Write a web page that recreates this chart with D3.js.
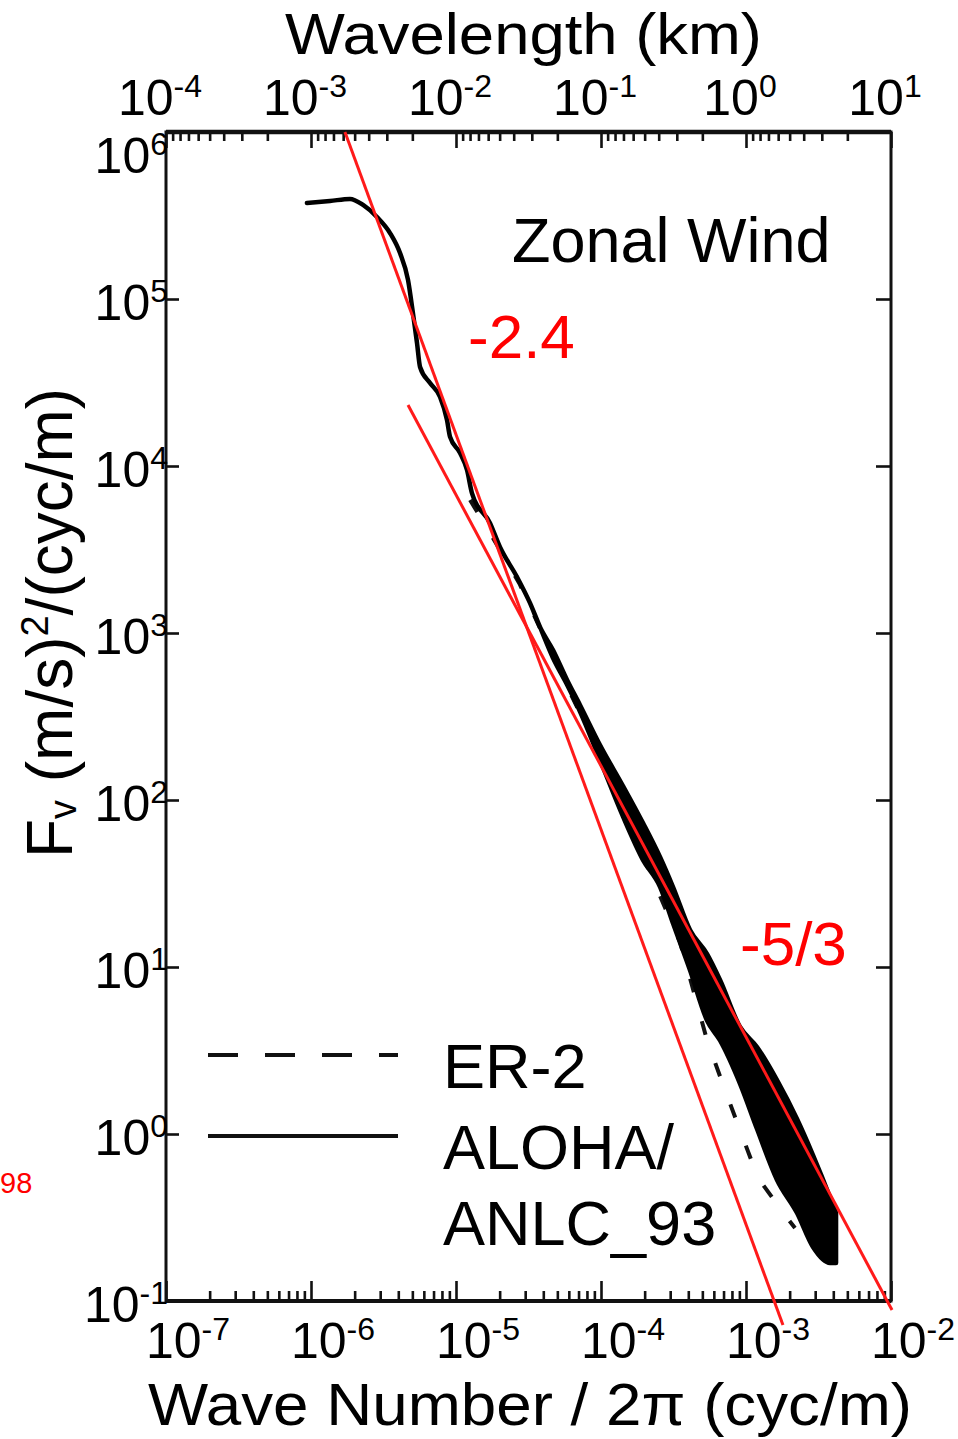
<!doctype html>
<html>
<head>
<meta charset="utf-8"/>
<title>Zonal Wind spectrum</title>
<script src="https://d3js.org/d3.v7.min.js"></script>
<style>
  body { margin: 0; background: #fff; }
  text { font-family: "Liberation Sans", Arial, sans-serif; }
</style>
</head>
<body>
<div id="chart"></div>
<script>
// ALOHA/ANLC_93 spectrum, log10 of wave number/2pi (cyc/m) and log10 of F (upper / lower edge of the noisy band)
var alohaLogK  = [-6.028, -5.869, -5.731, -5.641, -5.545, -5.455, -5.386, -5.331, -5.297, -5.269, -5.248, -5.179, -5.110, -5.062, -5.041, -4.972, -4.924, -4.890, -4.766, -4.697, -4.579, -4.490, -4.421,
                  -4.331, -4.234, -4.145, -4.007, -3.848, -3.710, -3.593, -3.503, -3.386, -3.269, -3.179, -3.041, -2.924, -2.786, -2.648, -2.538, -2.421, -2.379];
var alohaLogHi = [5.575, 5.587, 5.599, 5.563, 5.491, 5.395, 5.275, 5.114, 4.916, 4.737, 4.593, 4.497, 4.413, 4.275, 4.174, 4.078, 3.976, 3.838, 3.659, 3.515, 3.335, 3.180, 3.036,
                  2.898, 2.719, 2.569, 2.329, 2.084, 1.862, 1.659, 1.479, 1.222, 1.078, 0.922, 0.641, 0.521, 0.323, 0.090, -0.126, -0.377, -0.473];
var alohaLogLo = [5.575, 5.587, 5.599, 5.563, 5.491, 5.395, 5.275, 5.114, 4.916, 4.737, 4.593, 4.497, 4.413, 4.275, 4.174, 4.078, 3.976, 3.838, 3.659, 3.515, 3.335, 3.180, 3.036,
                  2.850, 2.690, 2.530, 2.240, 1.900, 1.640, 1.480, 1.260, 0.980, 0.680, 0.560, 0.300, 0.030, -0.275, -0.473, -0.677, -0.772, -0.772];

// ER-2 spectrum (mostly hidden under the ALOHA band)
var er2LogK = [-4.903, -4.766, -4.559, -4.283, -4.007, -3.731, -3.455, -3.269, -3.145, -3.034, -2.917, -2.717, -2.662];
var er2LogF = [3.796, 3.600, 3.290, 2.770, 2.270, 1.700, 1.150, 0.563, 0.263, 0.006, -0.263, -0.503, -0.563];

// red reference slopes (end points)
var fitLabels = ["-2.4", "-5/3"];
var fitLogK = [[-5.766, -2.745], [-5.331, -1.993]];
var fitLogF = [[6.0, -1.144], [4.365, -1.054]];

// tick labels (exponents)
var bottomExp = ["-7", "-6", "-5", "-4", "-3", "-2"];
var topExp    = ["-4", "-3", "-2", "-1", "0", "1"];
var leftExp   = ["6", "5", "4", "3", "2", "1", "0", "-1"];

var legendLabels = [["ER-2"], ["ALOHA/", "ANLC_93"]];

var W = 958, H = 1439;
var L = 166, R = 891, T = 132, B = 1301;

var svg = d3.select("#chart").append("svg")
    .attr("width", W).attr("height", H);

var x = d3.scaleLog().domain([1e-7, 1e-2]).range([L, R]);
var y = d3.scaleLog().domain([1e-1, 1e6]).range([B, T]);
// wavelength axis on top: ticks of a decreasing log scale, labelled as printed in the figure
var xTopTicks = d3.scaleLog().domain([1e4, 1e-1]).range([L, R]);
var xTop = d3.scaleLog().domain([1e-4, 1e1]).range([L, R]);

function p10(v) { return Math.pow(10, v); }
function isDecade(v) { return Math.abs(Math.log10(v) - Math.round(Math.log10(v))) < 1e-6; }

// ---- axes ticks
var gb = svg.append("g").attr("transform", "translate(0," + B + ")")
    .call(d3.axisBottom(x).tickSize(-10).tickFormat(""));
gb.selectAll(".tick line").attr("y2", function(d) { return isDecade(d) ? -20 : -10; });

var gt = svg.append("g").attr("transform", "translate(0," + T + ")")
    .call(d3.axisTop(xTopTicks).tickSize(-9).tickFormat(""));
gt.selectAll(".tick line").attr("y2", function(d) { return isDecade(d) ? 16 : 9; });

var yDec = leftExp.map(function(e) { return p10(+e); });
svg.append("g").attr("transform", "translate(" + L + ",0)")
    .call(d3.axisLeft(y).tickValues(yDec).tickSize(-13).tickFormat(""));
svg.append("g").attr("transform", "translate(" + R + ",0)")
    .call(d3.axisRight(y).tickValues(yDec).tickSize(-15).tickFormat(""));

svg.selectAll(".domain").remove();
svg.selectAll(".tick line").attr("stroke", "#111").attr("stroke-width", 2.6);

// frame
svg.append("rect")
    .attr("x", L).attr("y", T).attr("width", R - L).attr("height", B - T)
    .attr("fill", "none").attr("stroke", "#111").attr("stroke-width", 3);
svg.append("line").attr("x1", L).attr("x2", R).attr("y1", T).attr("y2", T)
    .attr("stroke", "#111").attr("stroke-width", 4.5);
svg.append("line").attr("x1", L).attr("x2", R).attr("y1", B).attr("y2", B)
    .attr("stroke", "#111").attr("stroke-width", 4);

// ---- tick labels
function powText(g, base, exp, size) {
  g.append("tspan").text(base);
  g.append("tspan").attr("font-size", size * 0.64).attr("dy", -size * 0.37).text(exp);
}
var fs = 50;
bottomExp.forEach(function(e) {
  var t = svg.append("text").attr("x", x(p10(+e)) + 22).attr("y", 1358)
      .attr("text-anchor", "middle").attr("font-size", fs);
  powText(t, "10", e, fs);
});
topExp.forEach(function(e) {
  var t = svg.append("text").attr("x", xTop(p10(+e)) - 6).attr("y", 115)
      .attr("text-anchor", "middle").attr("font-size", fs);
  powText(t, "10", e, fs);
});
leftExp.forEach(function(e) {
  var t = svg.append("text").attr("x", 168).attr("y", Math.max(y(p10(+e)) + 21, 173))
      .attr("text-anchor", "end").attr("font-size", fs);
  powText(t, "10", e, fs);
});

// ---- axis titles
svg.append("text").attr("x", 285).attr("y", 54)
    .attr("font-size", 58).attr("textLength", 477).attr("lengthAdjust", "spacingAndGlyphs")
    .text("Wavelength (km)");
svg.append("text").attr("x", 148).attr("y", 1425)
    .attr("font-size", 60).attr("textLength", 764).attr("lengthAdjust", "spacingAndGlyphs")
    .text("Wave Number / 2\u03c0 (cyc/m)");

var yt = svg.append("text").attr("transform", "translate(72,623) rotate(-90)")
    .attr("text-anchor", "middle").attr("font-size", 64);
yt.append("tspan").text("F");
yt.append("tspan").attr("font-size", 38).attr("dy", 4).text("v");
yt.append("tspan").attr("dy", -4).text(" (m/s)");
yt.append("tspan").attr("font-size", 38).attr("dy", -24).text("2");
yt.append("tspan").attr("dy", 24).text("/(cyc/m)");

// ---- data
var aloha = alohaLogK.map(function(k, i) { return { k: p10(k), hi: p10(alohaLogHi[i]), lo: p10(alohaLogLo[i]) }; });
var er2 = er2LogK.map(function(k, i) { return { k: p10(k), f: p10(er2LogF[i]) }; });

svg.append("path").datum(er2)
    .attr("fill", "none").attr("stroke", "#111").attr("stroke-width", 4)
    .attr("stroke-dasharray", "14,30")
    .attr("d", d3.line().x(function(d) { return x(d.k); }).y(function(d) { return y(d.f); }));

svg.append("path").datum(aloha)
    .attr("fill", "#000").attr("stroke", "#000").attr("stroke-width", 4.5)
    .attr("stroke-linejoin", "round")
    .attr("d", d3.area().curve(d3.curveMonotoneX)
        .x(function(d) { return x(d.k); })
        .y0(function(d) { return y(d.lo); })
        .y1(function(d) { return y(d.hi); }));

fitLogK.forEach(function(ks, i) {
  svg.append("line")
      .attr("x1", x(p10(ks[0]))).attr("y1", y(p10(fitLogF[i][0])))
      .attr("x2", x(p10(ks[1]))).attr("y2", y(p10(fitLogF[i][1])))
      .attr("stroke", "#ff1a1a").attr("stroke-width", 3);
});

// ---- annotations
svg.append("text").attr("x", 512).attr("y", 262).attr("font-size", 63).text("Zonal Wind");
svg.append("text").attr("x", 468).attr("y", 358).attr("font-size", 62).attr("fill", "#ff0000").text(fitLabels[0]);
svg.append("text").attr("x", 740).attr("y", 965).attr("font-size", 62).attr("fill", "#ff0000").text(fitLabels[1]);
svg.append("text").attr("x", 0).attr("y", 1193).attr("font-size", 29).attr("fill", "#ff0000").text("98");

// ---- legend
var legY = [1055, 1136];
var legDash = ["30,27", null];
legendLabels.forEach(function(lines, i) {
  svg.append("line").attr("x1", 208).attr("x2", 398).attr("y1", legY[i]).attr("y2", legY[i])
      .attr("stroke", "#111").attr("stroke-width", 4)
      .attr("stroke-dasharray", legDash[i]);
  lines.forEach(function(s, j) {
    svg.append("text").attr("x", 443).attr("y", legY[i] + 33 + j * 76)
        .attr("font-size", 63).text(s);
  });
});
</script>
</body>
</html>
